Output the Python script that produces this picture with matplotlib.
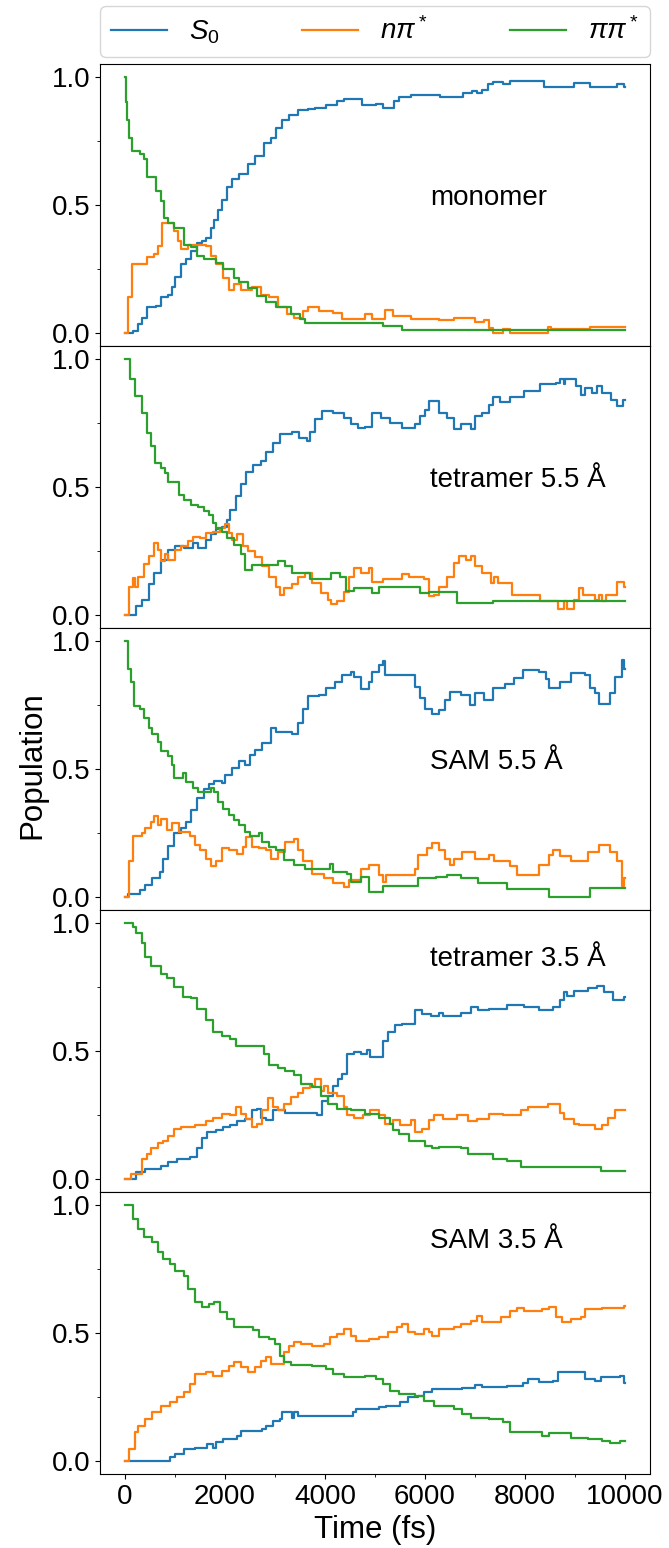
import matplotlib.pyplot as plt
from matplotlib.ticker import MultipleLocator

plt.rcParams['font.family'] = ['Liberation Sans', 'DejaVu Sans']
plt.rcParams['mathtext.fontset'] = 'custom'
plt.rcParams['mathtext.rm'] = 'Liberation Sans'
plt.rcParams['mathtext.it'] = 'Liberation Sans:italic'

# (time in fs, population) breakpoints of the averaged state populations
mono_s0 = [(0, 0), (160, 0.01), (260, 0.035), (330, 0.06), (440, 0.10), (615, 0.105), (720, 0.14), (865, 0.15),
           (935, 0.18), (1005, 0.22), (1110, 0.27), (1220, 0.29), (1325, 0.32), (1430, 0.35), (1540, 0.36),
           (1610, 0.37), (1715, 0.41), (1785, 0.44), (1855, 0.48), (1930, 0.52), (2035, 0.57), (2140, 0.60),
           (2280, 0.62), (2460, 0.66), (2600, 0.69), (2780, 0.74), (2920, 0.76), (3025, 0.80), (3130, 0.83),
           (3275, 0.85), (3450, 0.87), (3665, 0.875), (3805, 0.88), (4020, 0.89), (4230, 0.905), (4370, 0.915),
           (4730, 0.89), (5010, 0.895), (5150, 0.88), (5370, 0.905), (5470, 0.92), (5720, 0.93), (6290, 0.92),
           (6750, 0.935), (6930, 0.945), (7030, 0.935), (7140, 0.95), (7250, 0.97), (7350, 0.98), (7560, 0.97),
           (7700, 0.985), (8380, 0.96), (8980, 0.975), (9300, 0.96), (9830, 0.97), (9970, 0.96), (10000, 0.96)]
mono_npi = [(0, 0), (50, 0.14), (135, 0.27), (440, 0.295), (580, 0.31), (650, 0.34), (745, 0.43), (970, 0.40),
            (1055, 0.36), (1125, 0.33), (1255, 0.345), (1610, 0.34), (1715, 0.30), (1820, 0.27), (1960, 0.215),
            (2070, 0.17), (2175, 0.19), (2320, 0.17), (2530, 0.18), (2710, 0.15), (2885, 0.14), (3060, 0.10),
            (3240, 0.075), (3380, 0.06), (3560, 0.085), (3665, 0.10), (3875, 0.085), (4160, 0.08), (4335, 0.055),
            (4800, 0.075), (4940, 0.055), (5190, 0.09), (5365, 0.065), (5720, 0.055), (6285, 0.05), (6570, 0.06),
            (6995, 0.045), (7170, 0.05), (7280, 0.02), (7350, 0.0), (7560, 0.015), (7700, 0.0), (8450, 0.025),
            (8520, 0.015), (9300, 0.025), (10000, 0.025)]
mono_pipi = [(0, 1.0), (20, 0.90), (35, 0.83), (80, 0.76), (140, 0.71), (300, 0.70), (370, 0.68), (440, 0.61),
             (615, 0.555), (720, 0.515), (780, 0.45), (865, 0.43), (970, 0.41), (1180, 0.345), (1325, 0.335),
             (1430, 0.30), (1575, 0.29), (1820, 0.275), (1960, 0.25), (2175, 0.215), (2280, 0.20), (2460, 0.175),
             (2635, 0.145), (2810, 0.12), (3025, 0.10), (3310, 0.075), (3490, 0.055), (3595, 0.04), (5150, 0.027),
             (5540, 0.012), (10000, 0.012)]

tet55_s0 = [(0, 0), (225, 0.035), (330, 0.06), (475, 0.12), (580, 0.165), (720, 0.215), (865, 0.255), (1005, 0.27),
            (1185, 0.26), (1360, 0.28), (1465, 0.26), (1610, 0.295), (1715, 0.315), (1820, 0.335), (1930, 0.345),
            (2035, 0.37), (2105, 0.41), (2210, 0.465), (2320, 0.51), (2425, 0.56), (2565, 0.585), (2710, 0.60),
            (2815, 0.635), (2955, 0.67), (3095, 0.705), (3345, 0.715), (3485, 0.69), (3630, 0.68), (3700, 0.715),
            (3805, 0.765), (3945, 0.795), (4160, 0.79), (4370, 0.77), (4515, 0.745), (4655, 0.73), (4800, 0.735),
            (4940, 0.79), (5115, 0.77), (5295, 0.75), (5540, 0.73), (5790, 0.745), (5900, 0.775), (6005, 0.80),
            (6075, 0.835), (6285, 0.79), (6430, 0.77), (6570, 0.725), (6710, 0.745), (6925, 0.725), (6995, 0.775),
            (7135, 0.79), (7280, 0.82), (7350, 0.85), (7490, 0.83), (7700, 0.85), (7985, 0.875), (8305, 0.90),
            (8625, 0.905), (8695, 0.92), (8770, 0.90), (8800, 0.92), (9015, 0.895), (9120, 0.86), (9190, 0.885),
            (9335, 0.865), (9440, 0.895), (9545, 0.865), (9725, 0.84), (9830, 0.815), (9955, 0.84), (10000, 0.84)]
tet55_npi = [(0, 0), (85, 0.11), (155, 0.145), (190, 0.11), (260, 0.15), (370, 0.20), (475, 0.23), (580, 0.28),
             (650, 0.255), (720, 0.21), (795, 0.24), (865, 0.215), (1005, 0.255), (1110, 0.27), (1255, 0.29),
             (1360, 0.305), (1500, 0.30), (1610, 0.32), (1750, 0.325), (1890, 0.34), (2000, 0.355), (2070, 0.32),
             (2140, 0.295), (2245, 0.315), (2355, 0.27), (2460, 0.25), (2600, 0.225), (2740, 0.19), (2885, 0.15),
             (3025, 0.11), (3095, 0.08), (3170, 0.105), (3345, 0.12), (3450, 0.15), (3595, 0.165), (3735, 0.125),
             (3910, 0.085), (4055, 0.06), (4125, 0.045), (4230, 0.055), (4370, 0.09), (4480, 0.15), (4585, 0.185),
             (4725, 0.165), (4870, 0.185), (4940, 0.13), (5150, 0.14), (5540, 0.16), (5685, 0.15), (5970, 0.14),
             (6075, 0.075), (6180, 0.08), (6285, 0.11), (6430, 0.15), (6570, 0.205), (6675, 0.23), (6820, 0.215),
             (6925, 0.23), (6995, 0.19), (7135, 0.165), (7315, 0.125), (7385, 0.15), (7455, 0.125), (7740, 0.08),
             (8305, 0.055), (8660, 0.025), (8770, 0.055), (8840, 0.025), (8980, 0.06), (9085, 0.105), (9155, 0.08),
             (9405, 0.06), (9475, 0.08), (9545, 0.055), (9620, 0.08), (9830, 0.13), (9970, 0.11), (10000, 0.11)]
tet55_pipi = [(0, 1.0), (105, 0.92), (190, 0.855), (330, 0.79), (440, 0.71), (510, 0.66), (600, 0.595), (720, 0.575),
              (795, 0.555), (865, 0.52), (1075, 0.47), (1185, 0.45), (1325, 0.43), (1465, 0.42), (1575, 0.405),
              (1680, 0.39), (1750, 0.36), (1820, 0.34), (1930, 0.325), (2035, 0.30), (2175, 0.275), (2320, 0.24),
              (2390, 0.175), (2530, 0.195), (3060, 0.21), (3200, 0.19), (3345, 0.165), (3700, 0.14), (4125, 0.165),
              (4300, 0.15), (4410, 0.095), (4585, 0.105), (4940, 0.085), (5080, 0.11), (5900, 0.085), (6075, 0.09),
              (6640, 0.047), (7350, 0.055), (10000, 0.055)]

sam55_s0 = [(0, 0), (60, 0.013), (300, 0.027), (405, 0.047), (545, 0.073), (690, 0.10), (760, 0.15), (865, 0.20),
            (970, 0.25), (1110, 0.27), (1220, 0.295), (1325, 0.34), (1430, 0.385), (1575, 0.42), (1680, 0.44),
            (1785, 0.455), (1930, 0.445), (2000, 0.475), (2140, 0.505), (2280, 0.53), (2390, 0.515), (2495, 0.555),
            (2600, 0.575), (2740, 0.60), (2920, 0.66), (3025, 0.645), (3345, 0.635), (3450, 0.68), (3560, 0.735),
            (3665, 0.785), (3875, 0.79), (4020, 0.815), (4195, 0.84), (4335, 0.865), (4515, 0.88), (4585, 0.86),
            (4725, 0.81), (4870, 0.84), (4940, 0.88), (5080, 0.905), (5150, 0.92), (5190, 0.865), (5790, 0.82),
            (5900, 0.775), (6005, 0.735), (6145, 0.715), (6285, 0.73), (6390, 0.77), (6500, 0.80), (6710, 0.79),
            (6890, 0.75), (6995, 0.795), (7170, 0.77), (7350, 0.815), (7600, 0.83), (7775, 0.855), (7950, 0.885),
            (8270, 0.88), (8410, 0.85), (8485, 0.815), (8695, 0.84), (8910, 0.875), (9190, 0.865), (9300, 0.815),
            (9405, 0.795), (9475, 0.755), (9690, 0.795), (9795, 0.86), (9935, 0.925), (9970, 0.89), (10000, 0.89)]
sam55_npi = [(0, 0), (85, 0.14), (155, 0.24), (330, 0.25), (405, 0.27), (510, 0.295), (580, 0.315), (650, 0.28),
             (720, 0.305), (830, 0.26), (935, 0.29), (1075, 0.255), (1290, 0.24), (1395, 0.205), (1500, 0.185),
             (1610, 0.15), (1715, 0.12), (1820, 0.14), (1930, 0.19), (2070, 0.185), (2245, 0.17), (2355, 0.195),
             (2425, 0.235), (2530, 0.195), (2670, 0.19), (2810, 0.185), (2920, 0.15), (3060, 0.175), (3200, 0.215),
             (3380, 0.225), (3450, 0.185), (3560, 0.14), (3735, 0.09), (3985, 0.075), (4160, 0.055), (4370, 0.04),
             (4480, 0.065), (4725, 0.11), (4870, 0.125), (5080, 0.085), (5150, 0.06), (5225, 0.085), (5790, 0.11),
             (5860, 0.165), (6040, 0.19), (6145, 0.21), (6285, 0.185), (6390, 0.15), (6500, 0.125), (6570, 0.15),
             (6745, 0.175), (6995, 0.15), (7280, 0.165), (7385, 0.14), (7700, 0.12), (7845, 0.085), (8270, 0.125),
             (8485, 0.165), (8555, 0.185), (8695, 0.16), (8910, 0.14), (9260, 0.175), (9475, 0.205), (9690, 0.175),
             (9830, 0.14), (9935, 0.045), (9970, 0.075), (10000, 0.075)]
sam55_pipi = [(0, 1.0), (50, 0.89), (120, 0.84), (170, 0.745), (300, 0.735), (370, 0.70), (475, 0.66), (545, 0.635),
              (650, 0.605), (720, 0.57), (865, 0.55), (935, 0.515), (970, 0.465), (1150, 0.485), (1220, 0.45),
              (1360, 0.425), (1465, 0.41), (1715, 0.425), (1785, 0.41), (1855, 0.37), (1960, 0.345), (2070, 0.32),
              (2175, 0.30), (2280, 0.28), (2390, 0.255), (2495, 0.24), (2670, 0.25), (2740, 0.215), (2885, 0.195),
              (3025, 0.185), (3170, 0.145), (3380, 0.125), (3595, 0.11), (4090, 0.13), (4160, 0.10), (4445, 0.09),
              (4515, 0.06), (4725, 0.08), (4870, 0.02), (5150, 0.045), (5860, 0.075), (6215, 0.08), (6430, 0.085),
              (6710, 0.075), (7065, 0.055), (7630, 0.03), (8485, 0.0), (9300, 0.035), (10000, 0.035)]

tet35_s0 = [(0, 0), (225, 0.027), (405, 0.04), (720, 0.053), (865, 0.066), (1040, 0.08), (1290, 0.086), (1430, 0.12),
            (1540, 0.16), (1645, 0.185), (1820, 0.19), (1960, 0.205), (2105, 0.21), (2245, 0.225), (2390, 0.235),
            (2530, 0.27), (2635, 0.275), (2710, 0.24), (2815, 0.23), (2955, 0.27), (3200, 0.26), (3840, 0.25),
            (3945, 0.305), (4055, 0.325), (4160, 0.365), (4265, 0.39), (4335, 0.41), (4445, 0.49), (4585, 0.495),
            (4725, 0.49), (4835, 0.505), (4905, 0.475), (5150, 0.54), (5260, 0.575), (5400, 0.60), (5540, 0.605),
            (5790, 0.66), (5930, 0.645), (6110, 0.635), (6285, 0.65), (6355, 0.635), (6710, 0.65), (6925, 0.67),
            (7065, 0.66), (7280, 0.665), (7630, 0.68), (7985, 0.67), (8270, 0.66), (8555, 0.67), (8695, 0.70),
            (8770, 0.73), (8840, 0.715), (8980, 0.735), (9260, 0.745), (9440, 0.755), (9580, 0.73), (9760, 0.70),
            (9970, 0.71), (10000, 0.71)]
tet35_npi = [(0, 0), (120, 0.02), (330, 0.08), (440, 0.10), (510, 0.12), (650, 0.14), (760, 0.15), (865, 0.17),
             (970, 0.195), (1110, 0.205), (1395, 0.21), (1610, 0.225), (1750, 0.24), (1930, 0.255), (2105, 0.25),
             (2210, 0.28), (2320, 0.255), (2425, 0.235), (2530, 0.205), (2635, 0.215), (2740, 0.27), (2850, 0.315),
             (2955, 0.28), (3060, 0.27), (3170, 0.295), (3310, 0.32), (3450, 0.335), (3560, 0.355), (3700, 0.365),
             (3805, 0.39), (3910, 0.345), (3985, 0.365), (4055, 0.335), (4230, 0.325), (4370, 0.28), (4445, 0.25),
             (4585, 0.24), (4760, 0.25), (4905, 0.27), (5080, 0.25), (5190, 0.215), (5365, 0.23), (5505, 0.21),
             (5720, 0.23), (5790, 0.185), (5930, 0.195), (6075, 0.23), (6180, 0.25), (6355, 0.235), (6640, 0.25),
             (6855, 0.225), (7030, 0.235), (7280, 0.255), (7560, 0.25), (7915, 0.27), (8060, 0.28), (8450, 0.295),
             (8695, 0.26), (8770, 0.235), (8980, 0.215), (9085, 0.21), (9405, 0.195), (9545, 0.21), (9655, 0.24),
             (9795, 0.27), (10000, 0.27)]
tet35_pipi = [(0, 1.0), (155, 0.985), (225, 0.96), (330, 0.92), (405, 0.865), (510, 0.83), (720, 0.80), (830, 0.785),
              (970, 0.75), (1150, 0.71), (1325, 0.705), (1430, 0.665), (1610, 0.62), (1750, 0.575), (1930, 0.56),
              (2105, 0.545), (2210, 0.52), (2780, 0.49), (2885, 0.445), (3060, 0.435), (3200, 0.42), (3380, 0.405),
              (3520, 0.37), (3735, 0.36), (3910, 0.325), (4055, 0.295), (4230, 0.275), (4515, 0.27), (4800, 0.255),
              (5080, 0.24), (5295, 0.215), (5365, 0.19), (5470, 0.175), (5685, 0.15), (6005, 0.13), (6145, 0.12),
              (6285, 0.125), (6710, 0.12), (6855, 0.10), (7350, 0.08), (7630, 0.07), (7915, 0.047), (9510, 0.03),
              (10000, 0.03)]

sam35_s0 = [(0, 0), (900, 0.015), (1005, 0.027), (1185, 0.047), (1395, 0.053), (1645, 0.066), (1750, 0.05),
            (1820, 0.073), (1960, 0.086), (2245, 0.10), (2320, 0.118), (2740, 0.125), (2815, 0.138), (2955, 0.158),
            (3095, 0.165), (3130, 0.19), (3345, 0.17), (3380, 0.19), (3450, 0.175), (4370, 0.177), (4550, 0.19),
            (4620, 0.203), (5080, 0.21), (5225, 0.216), (5505, 0.23), (5650, 0.25), (5860, 0.255), (5970, 0.268),
            (6145, 0.28), (6745, 0.285), (6995, 0.297), (7135, 0.288), (7630, 0.294), (7950, 0.305), (8060, 0.32),
            (8270, 0.307), (8555, 0.314), (8660, 0.346), (9190, 0.32), (9405, 0.314), (9510, 0.33), (9900, 0.333),
            (9970, 0.305), (10000, 0.305)]
sam35_npi = [(0, 0), (85, 0.047), (190, 0.112), (260, 0.138), (405, 0.164), (545, 0.19), (720, 0.216), (900, 0.229),
             (1040, 0.249), (1185, 0.268), (1290, 0.30), (1395, 0.34), (1610, 0.346), (1750, 0.333), (1930, 0.353),
             (2070, 0.372), (2175, 0.385), (2320, 0.366), (2460, 0.346), (2600, 0.366), (2710, 0.392), (2815, 0.405),
             (2920, 0.38), (3170, 0.424), (3275, 0.45), (3380, 0.464), (3520, 0.457), (3735, 0.45), (3985, 0.457),
             (4090, 0.483), (4230, 0.496), (4370, 0.516), (4515, 0.49), (4620, 0.47), (4870, 0.477), (5080, 0.483),
             (5260, 0.503), (5435, 0.522), (5540, 0.535), (5650, 0.503), (5790, 0.496), (5970, 0.516), (6075, 0.503),
             (6145, 0.49), (6285, 0.516), (6570, 0.522), (6710, 0.535), (6925, 0.548), (7030, 0.568), (7135, 0.542),
             (7525, 0.561), (7700, 0.587), (7845, 0.596), (7985, 0.587), (8340, 0.594), (8485, 0.60), (8625, 0.561),
             (8730, 0.542), (8910, 0.555), (9120, 0.561), (9190, 0.594), (9545, 0.596), (9970, 0.607), (10000, 0.607)]
sam35_pipi = [(0, 1.0), (155, 0.945), (260, 0.906), (370, 0.874), (545, 0.854), (650, 0.815), (760, 0.789),
              (900, 0.77), (1005, 0.743), (1185, 0.724), (1255, 0.672), (1395, 0.62), (1540, 0.60), (1680, 0.613),
              (1785, 0.62), (1890, 0.58), (2035, 0.555), (2175, 0.522), (2565, 0.51), (2670, 0.483), (2885, 0.477),
              (2990, 0.457), (3095, 0.41), (3170, 0.385), (3310, 0.375), (3735, 0.372), (4020, 0.36), (4160, 0.34),
              (4370, 0.327), (4800, 0.333), (5010, 0.32), (5150, 0.30), (5295, 0.275), (5470, 0.262), (5790, 0.255),
              (5970, 0.236), (6180, 0.216), (6570, 0.203), (6745, 0.184), (6925, 0.17), (7280, 0.164), (7560, 0.151),
              (7700, 0.112), (8340, 0.10), (8485, 0.11), (8910, 0.092), (9260, 0.086), (9545, 0.08), (9690, 0.07),
              (9900, 0.08), (10000, 0.08)]

systems = ['monomer', 'tetramer 5.5 Å', 'SAM 5.5 Å', 'tetramer 3.5 Å', 'SAM 3.5 Å']
label_y = [0.5, 0.5, 0.5, 0.83, 0.83]
panels = [(mono_s0, mono_npi, mono_pipi),
          (tet55_s0, tet55_npi, tet55_pipi),
          (sam55_s0, sam55_npi, sam55_pipi),
          (tet35_s0, tet35_npi, tet35_pipi),
          (sam35_s0, sam35_npi, sam35_pipi)]
state_labels = [r'$S_0$', r'$n\pi^*$', r'$\pi\pi^*$']
colors = ['tab:blue', 'tab:orange', 'tab:green']

fig, axes = plt.subplots(5, 1, figsize=(6.69, 15.48), dpi=100, sharex=True)
fig.subplots_adjust(left=0.1495, right=0.9716, top=0.9587, bottom=0.0478, hspace=0)

for ax, series, name, ty in zip(axes, panels, systems, label_y):
    for pts, lab, c in zip(series, state_labels, colors):
        t, p = zip(*pts)
        ax.plot(t, p, drawstyle='steps-post', color=c, lw=1.6, label=lab)
    ax.text(6100, ty, name, fontsize=20)
    ax.set_xlim(-500, 10500)
    ax.set_ylim(-0.05, 1.05)
    ax.set_yticks([0, 0.5, 1.0])
    ax.yaxis.set_minor_locator(MultipleLocator(0.25))
    ax.xaxis.set_major_locator(MultipleLocator(2000))
    ax.xaxis.set_minor_locator(MultipleLocator(1000))
    ax.tick_params(labelsize=20)

axes[0].legend(loc='lower left', bbox_to_anchor=(0, 1.025, 1, 0.2), mode='expand',
               ncol=3, borderaxespad=0, fontsize=20)
axes[-1].set_xlabel('Time (fs)', fontsize=22.5)
fig.text(0.049, 0.506, 'Population', rotation=90, ha='center', va='center', fontsize=22.5)

fig.savefig('out.png')
